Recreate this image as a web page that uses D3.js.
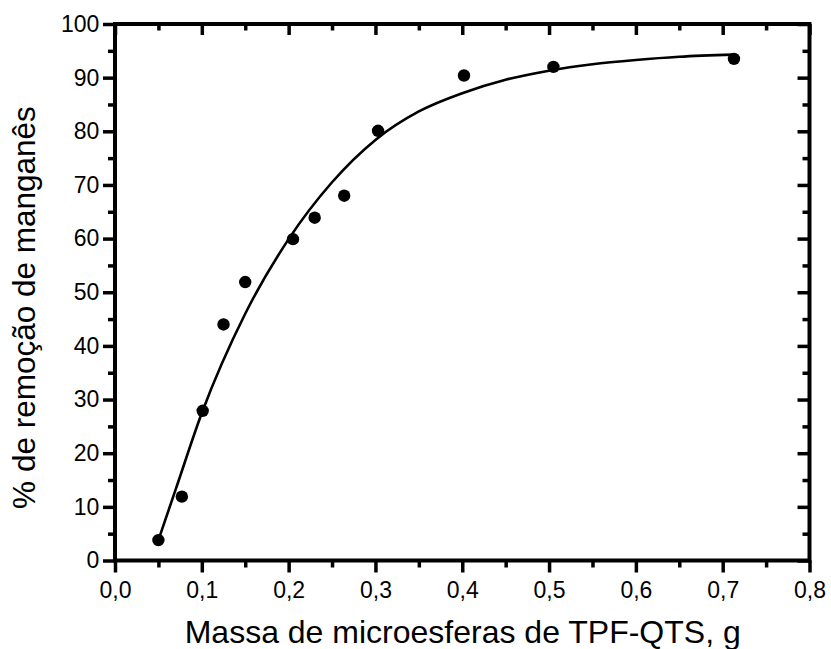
<!DOCTYPE html>
<html>
<head>
<meta charset="utf-8">
<script src="https://cdn.jsdelivr.net/npm/d3@7"></script>
<style>
  body { margin: 0; background: #fff; }
  text { font-family: "Liberation Sans", Arial, sans-serif; fill: #000; }
</style>
</head>
<body>
<div id="chart"></div>
<script>
// measured points
const massX = [0.050, 0.077, 0.101, 0.125, 0.150, 0.205, 0.230, 0.264, 0.303, 0.402, 0.505, 0.713];
const removal = [3.8, 11.9, 27.9, 44.0, 51.9, 59.9, 63.9, 68.0, 80.1, 90.4, 92.0, 93.5];

// fitted curve
const fitX = [0.050, 0.070, 0.100, 0.150, 0.200, 0.250, 0.300, 0.350, 0.400, 0.450, 0.500, 0.550, 0.600, 0.650, 0.712];
const fitY = [3.8, 13.3, 27.5, 46.0, 59.9, 70.5, 78.4, 83.7, 87.1, 89.6, 91.3, 92.5, 93.3, 93.9, 94.3];

const xTicks = [0, 0.1, 0.2, 0.3, 0.4, 0.5, 0.6, 0.7, 0.8];
const xMinor = [0.05, 0.15, 0.25, 0.35, 0.45, 0.55, 0.65, 0.75];
const yTicks = [0, 10, 20, 30, 40, 50, 60, 70, 80, 90, 100];
const yMinor = [5, 15, 25, 35, 45, 55, 65, 75, 85, 95];

const xTitle = "Massa de microesferas de TPF-QTS, g";
const yTitle = "% de remoção de manganês";

function drawChart() {
    let W = 831, H = 649;
    let left = 115, right = 809.5, top = 24, bottom = 560.5;

    let svg = d3.select("#chart").append("svg")
        .attr("width", W)
        .attr("height", H)
        .style("display", "block");

    svg.append("rect").attr("width", W).attr("height", H).attr("fill", "#fff");

    let x = d3.scaleLinear().domain([0, 0.8]).range([left, right]);
    let y = d3.scaleLinear().domain([0, 100]).range([bottom, top]);

    let fmt = d => d3.format(".1f")(d).replace(".", ",");

    function styleAxis(g, sw) {
        g.select(".domain").remove();
        g.selectAll(".tick line").attr("stroke", "#000").attr("stroke-width", sw);
        g.selectAll(".tick text").attr("font-size", 23).attr("fill", "#000")
            .attr("font-family", "'Liberation Sans', Arial, sans-serif");
    }

    // bottom axis, ticks outside
    svg.append("g").attr("transform", "translate(0," + bottom + ")")
        .call(d3.axisBottom(x).tickValues(xTicks).tickSize(12).tickPadding(9.5).tickFormat(fmt))
        .call(g => styleAxis(g, 3.5));
    svg.append("g").attr("transform", "translate(0," + bottom + ")")
        .call(d3.axisBottom(x).tickValues(xMinor).tickSize(7).tickFormat(""))
        .call(g => styleAxis(g, 3.5));

    // top axis, ticks inside
    svg.append("g").attr("transform", "translate(0," + top + ")")
        .call(d3.axisTop(x).tickValues(xTicks).tickSize(-11).tickFormat(""))
        .call(g => styleAxis(g, 3.5));
    svg.append("g").attr("transform", "translate(0," + top + ")")
        .call(d3.axisTop(x).tickValues(xMinor).tickSize(-6.5).tickFormat(""))
        .call(g => styleAxis(g, 3.5));

    // left axis, ticks outside
    svg.append("g").attr("transform", "translate(" + left + ",0)")
        .call(d3.axisLeft(y).tickValues(yTicks).tickSize(12).tickPadding(3.7).tickFormat(d3.format("d")))
        .call(g => styleAxis(g, 3.5));
    svg.append("g").attr("transform", "translate(" + left + ",0)")
        .call(d3.axisLeft(y).tickValues(yMinor).tickSize(7).tickFormat(""))
        .call(g => styleAxis(g, 3.5));

    // right axis, ticks inside
    svg.append("g").attr("transform", "translate(" + right + ",0)")
        .call(d3.axisRight(y).tickValues(yTicks).tickSize(-12).tickFormat(""))
        .call(g => styleAxis(g, 3.5));
    svg.append("g").attr("transform", "translate(" + right + ",0)")
        .call(d3.axisRight(y).tickValues(yMinor).tickSize(-7).tickFormat(""))
        .call(g => styleAxis(g, 3.5));

    // frame
    svg.append("rect")
        .attr("x", left).attr("y", top)
        .attr("width", right - left).attr("height", bottom - top)
        .attr("fill", "none").attr("stroke", "#000").attr("stroke-width", 4);

    // fit curve
    let fit = fitX.map((v, i) => [v, fitY[i]]);
    let line = d3.line()
        .x(d => x(d[0]))
        .y(d => y(d[1]))
        .curve(d3.curveMonotoneX);
    svg.append("path")
        .datum(fit)
        .attr("d", line)
        .attr("fill", "none")
        .attr("stroke", "#000")
        .attr("stroke-width", 2.6);

    // points
    let pts = massX.map((v, i) => ({ x: v, y: removal[i] }));
    svg.selectAll(".pt")
        .data(pts)
        .enter()
        .append("circle")
        .attr("class", "pt")
        .attr("cx", d => x(d.x))
        .attr("cy", d => y(d.y))
        .attr("r", 6.2)
        .attr("fill", "#000");

    // titles
    svg.append("text")
        .attr("x", 462.7)
        .attr("y", 643)
        .attr("text-anchor", "middle")
        .attr("font-size", 32)
        .text(xTitle);

    svg.append("text")
        .attr("transform", "translate(35,307.5) rotate(-90)")
        .attr("text-anchor", "middle")
        .attr("font-size", 31.5)
        .text(yTitle);
}

window.onload = () => {
    drawChart();
}
</script>
</body>
</html>
